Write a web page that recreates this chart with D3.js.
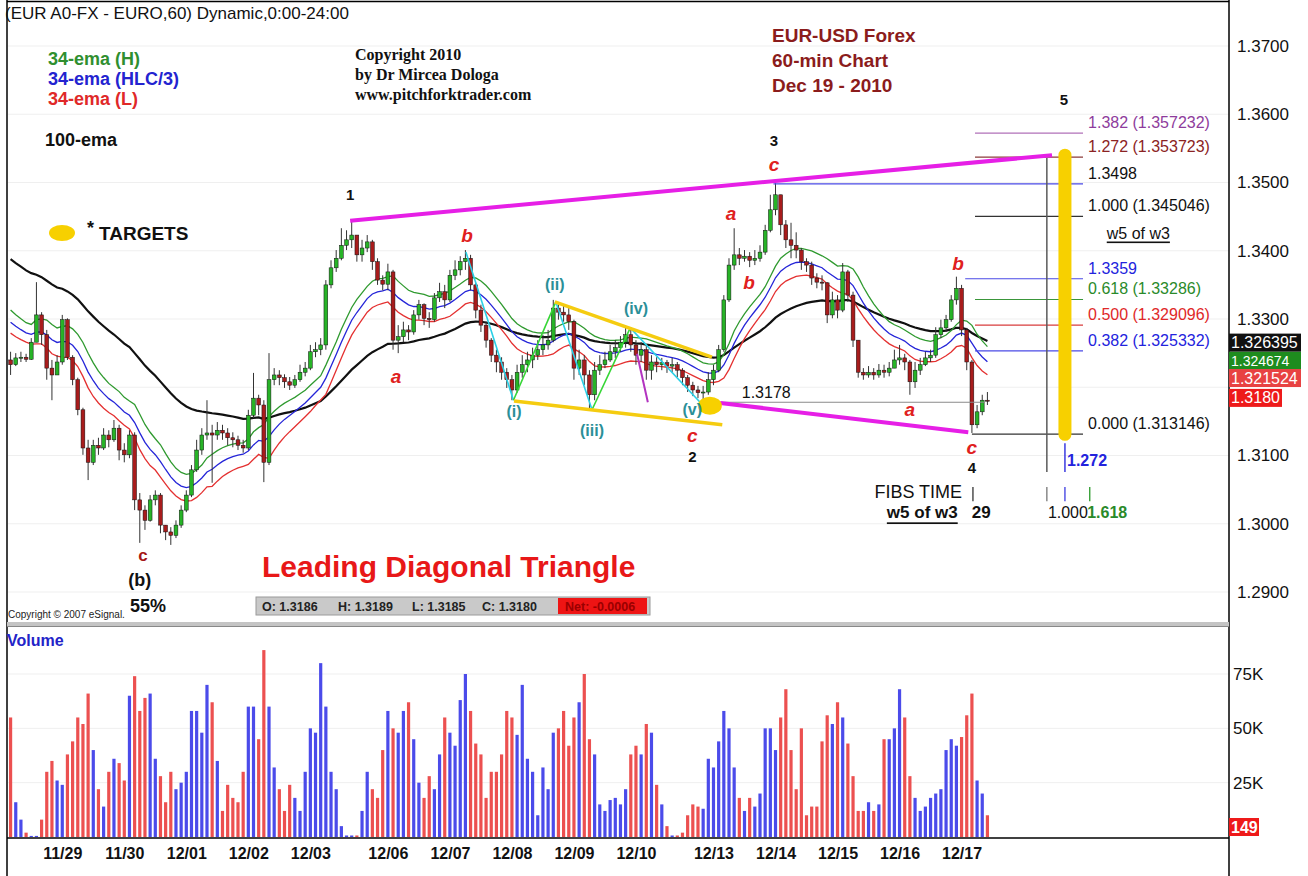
<!DOCTYPE html>
<html>
<head>
<meta charset="utf-8">
<script src="https://cdn.jsdelivr.net/npm/d3@7"></script>
<style>
  body { margin: 0; background: #fff; }
  svg text { font-family: "Liberation Sans", Arial, sans-serif; }
</style>
</head>
<body>
<svg id="chart" width="1308" height="876"></svg>
<script>
// ---------- data (2-hour bars) ----------
var firstOpen = 1.3240;
var closes = [
  1.3233,1.3243,1.3244,1.3241,1.3266,1.3306,1.3277,1.3228,1.3218,1.3237,
  1.3299,1.3244,1.3211,1.3167,1.3111,1.3090,1.3115,1.3111,1.3130,1.3123,
  1.3140,1.3108,1.3101,1.3130,1.3035,1.3020,1.3005,1.3035,1.3042,1.2998,
  1.2988,1.2983,1.2998,1.3020,1.3042,1.3079,1.3108,1.3130,1.3133,1.3130,
  1.3137,1.3133,1.3126,1.3123,1.3115,1.3111,1.3159,1.3184,1.3174,1.3090,
  1.3211,1.3218,1.3214,1.3208,1.3203,1.3211,1.3222,1.3228,1.3252,1.3255,
  1.3262,1.3350,1.3375,1.3389,1.3408,1.3416,1.3423,1.3394,1.3404,1.3413,
  1.3384,1.3357,1.3351,1.3369,1.3269,1.3274,1.3284,1.3281,1.3306,1.3321,
  1.3301,1.3299,1.3331,1.3340,1.3328,1.3364,1.3372,1.3384,1.3389,1.3350,
  1.3313,1.3291,1.3269,1.3247,1.3237,1.3222,1.3211,1.3196,1.3222,1.3233,
  1.3240,1.3247,1.3255,1.3262,1.3269,1.3316,1.3310,1.3306,1.3296,1.3228,
  1.3240,1.3218,1.3189,1.3225,1.3233,1.3240,1.3252,1.3258,1.3266,1.3277,
  1.3262,1.3247,1.3255,1.3225,1.3237,1.3233,1.3236,1.3231,1.3233,1.3225,
  1.3214,1.3203,1.3196,1.3192,1.3193,1.3211,1.3225,1.3255,1.3328,1.3379,
  1.3394,1.3389,1.3392,1.3386,1.3389,1.3398,1.3430,1.3460,1.3482,1.3438,
  1.3416,1.3408,1.3401,1.3384,1.3379,1.3360,1.3354,1.3353,1.3306,1.3328,
  1.3313,1.3369,1.3335,1.3269,1.3222,1.3218,1.3222,1.3218,1.3225,1.3222,
  1.3228,1.3240,1.3243,1.3237,1.3208,1.3225,1.3233,1.3243,1.3247,1.3277,
  1.3287,1.3299,1.3328,1.3345,1.3284,1.3237,1.3145,1.3164,1.3181,1.3180
];
var highs = [
  1.3252,1.3250,1.3252,1.3249,1.3272,1.3354,1.3310,1.3284,1.3240,1.3247,
  1.3306,1.3301,1.3247,1.3214,1.3170,1.3123,1.3123,1.3126,1.3140,1.3137,
  1.3152,1.3145,1.3118,1.3137,1.3134,1.3045,1.3027,1.3042,1.3049,1.3045,
  1.2998,1.2995,1.3005,1.3027,1.3049,1.3086,1.3123,1.3140,1.3181,1.3145,
  1.3149,1.3145,1.3140,1.3134,1.3129,1.3123,1.3167,1.3221,1.3189,1.3181,
  1.3250,1.3228,1.3225,1.3219,1.3215,1.3218,1.3233,1.3237,1.3262,1.3266,
  1.3272,1.3357,1.3386,1.3401,1.3433,1.3430,1.3444,1.3423,1.3416,1.3423,
  1.3416,1.3389,1.3364,1.3381,1.3372,1.3291,1.3296,1.3291,1.3313,1.3328,
  1.3323,1.3310,1.3338,1.3353,1.3350,1.3372,1.3386,1.3392,1.3401,1.3394,
  1.3353,1.3321,1.3296,1.3272,1.3255,1.3244,1.3228,1.3218,1.3233,1.3247,
  1.3252,1.3258,1.3269,1.3277,1.3284,1.3328,1.3325,1.3321,1.3316,1.3299,
  1.3255,1.3247,1.3225,1.3237,1.3247,1.3252,1.3262,1.3269,1.3275,1.3287,
  1.3288,1.3269,1.3266,1.3262,1.3247,1.3244,1.3243,1.3240,1.3243,1.3237,
  1.3228,1.3218,1.3208,1.3202,1.3202,1.3222,1.3233,1.3262,1.3335,1.3389,
  1.3433,1.3404,1.3401,1.3398,1.3401,1.3408,1.3438,1.3482,1.3499,1.3482,
  1.3445,1.3441,1.3427,1.3404,1.3389,1.3384,1.3367,1.3364,1.3354,1.3340,
  1.3335,1.3382,1.3372,1.3340,1.3269,1.3228,1.3231,1.3228,1.3234,1.3233,
  1.3237,1.3255,1.3262,1.3249,1.3240,1.3237,1.3243,1.3252,1.3255,1.3288,
  1.3299,1.3306,1.3335,1.3362,1.3350,1.3287,1.3240,1.3174,1.3189,1.3193
];
var lows = [
  1.3218,1.3231,1.3237,1.3237,1.3240,1.3266,1.3262,1.3211,1.3181,1.3218,
  1.3233,1.3240,1.3203,1.3159,1.3101,1.3064,1.3086,1.3101,1.3108,1.3112,
  1.3120,1.3093,1.3090,1.3096,1.3020,1.2972,1.2991,1.3003,1.3027,1.2986,
  1.2976,1.2969,1.2979,1.2994,1.3017,1.3039,1.3076,1.3101,1.3123,1.3060,
  1.3123,1.3123,1.3115,1.3112,1.3108,1.3104,1.3108,1.3155,1.3159,1.3061,
  1.3086,1.3203,1.3203,1.3199,1.3196,1.3199,1.3208,1.3216,1.3225,1.3244,
  1.3247,1.3255,1.3345,1.3369,1.3386,1.3401,1.3404,1.3384,1.3384,1.3398,
  1.3372,1.3350,1.3342,1.3342,1.3255,1.3250,1.3266,1.3269,1.3277,1.3299,
  1.3291,1.3287,1.3296,1.3325,1.3316,1.3325,1.3357,1.3364,1.3372,1.3342,
  1.3301,1.3281,1.3258,1.3237,1.3222,1.3211,1.3199,1.3181,1.3192,1.3214,
  1.3222,1.3228,1.3240,1.3247,1.3255,1.3266,1.3299,1.3296,1.3284,1.3211,
  1.3218,1.3203,1.3167,1.3181,1.3218,1.3228,1.3237,1.3243,1.3252,1.3258,
  1.3252,1.3233,1.3237,1.3211,1.3211,1.3222,1.3225,1.3221,1.3222,1.3215,
  1.3203,1.3193,1.3187,1.3184,1.3181,1.3189,1.3203,1.3222,1.3252,1.3325,
  1.3372,1.3379,1.3384,1.3376,1.3379,1.3384,1.3394,1.3427,1.3452,1.3423,
  1.3404,1.3389,1.3389,1.3372,1.3369,1.3350,1.3345,1.3342,1.3294,1.3301,
  1.3301,1.3310,1.3325,1.3259,1.3214,1.3211,1.3214,1.3211,1.3214,1.3214,
  1.3216,1.3228,1.3233,1.3225,1.3189,1.3199,1.3218,1.3231,1.3237,1.3243,
  1.3272,1.3281,1.3296,1.3321,1.3275,1.3225,1.3133,1.3140,1.3159,1.3174
];
// volume in thousands
var volumes = [
  55,16,8,2,0.5,0.5,8,30,35,26,
  24,38,44,55,52,66,40,22,14,30,
  36,34,26,65,74,58,64,66,36,28,
  16,30,22,25,30,58,58,48,70,62,
  35,12,24,18,16,30,60,60,45,86,
  60,32,22,12,24,18,12,30,50,48,
  80,60,30,22,5,0.7,0.7,0.7,12,30,
  22,18,40,58,50,48,58,62,45,25,
  18,28,22,38,55,48,42,63,75,58,
  43,38,18,30,30,38,58,55,47,70,
  36,30,10,32,22,48,50,58,42,55,
  62,75,45,38,15,12,17,18,15,22,
  38,42,38,52,48,24,15,5,0.7,0.7,
  2,10,15,14,13,36,32,44,58,50,
  32,18,12,18,14,20,50,50,40,55,
  68,40,22,50,10,14,14,44,56,52,
  62,55,43,28,12,12,16,12,15,45,
  45,50,68,55,28,18,12,14,18,20,
  22,40,45,42,46,56,66,26,20,10
];

var dayLabels   = ["11/29","11/30","12/01","12/02","12/03","12/06","12/07","12/08","12/09","12/10","12/13","12/14","12/15","12/16","12/17"];
var dayStartBar = [10, 22, 34, 46, 58, 73, 85, 97, 109, 121, 136, 148, 160, 172, 184];
var priceTicks  = [1.29, 1.30, 1.31, 1.33, 1.34, 1.35, 1.36, 1.37];
var volumeTicks = [25, 50, 75];

// ema lengths in 2-hour bars (34 and 100 hourly bars) and the values where the lines enter the chart
var shortPeriod = 17, longPeriod = 50;
var emaSeedHigh = 1.3321, emaSeedHLC = 1.3303, emaSeedLow = 1.3287, emaSeedLong = 1.3394;

// study values shown in the boxes of the price scale
var lastValueText  = ["1.324674", "1.326395", "1.321524", "1.3180"];
var lastValuePrice = [1.324674, 1.326395, 1.321524, 1.3180];

// fibonacci price levels
var fibLabels   = ["1.382 (1.357232)","1.272 (1.353723)","1.3498","1.000 (1.345046)","1.3359","0.618 (1.33286)","0.500 (1.329096)","0.382 (1.325332)","0.000 (1.313146)"];
var fibPrices   = [1.357232, 1.353723, 1.3498, 1.345046, 1.3359, 1.33286, 1.329096, 1.325332, 1.313146];
var fibStartBar = [186.6, 186.6, 147.6, 186.6, 184.7, 186.6, 186.6, 186.6, 186.0];
var fibEndBar   = 207.5;

// wave (i)..(v) zigzag, starting at the b top
var zigBars   = [88.1, 97.3, 105.5, 112.5, 119.9, 133.4];
var zigPrices = [1.3398, 1.3181, 1.3325, 1.3167, 1.3287, 1.3178];

// trend lines [bar, price] pairs
var upperWedge  = [[65.7, 1.3444], [201.5, 1.3540]];
var lowerWedge  = [[137.3, 1.3177], [185.3, 1.3134]];
var yellowUpper = [[105.3, 1.3325], [135.7, 1.3244]];
var yellowLower = [[97.4, 1.3180], [137.7, 1.3145]];
var smallDrop   = [[121.2, 1.3249], [123.3, 1.3178]];
var level13178  = [[137.3, 1.3178], [188.5, 1.3178]];
var targetSpot  = [135.3, 1.3173];
var targetBar   = [[204.0, 1.3540], [204.0, 1.3131]];
var timeLine    = [[200.5, 1.3536], [200.5, 1.3076]];
var timeBlue    = [[204.0, 1.3118], [204.0, 1.3076]];
var timeTickBars = [186.2, 200.5, 204.0, 208.8];

// wave labels
var noteText  = ["1","b","a","c","(b)","55%","(ii)","(iv)","(i)","(iii)","(v)","c","2","1.3178","a","b","c","3","b","a","c","4","5",
                 "w5 of w3","FIBS TIME","w5 of w3","29","1.000","1.618","1.272"];
var noteBar   = [65.7,88.3,74.6,25.6,25.0,26.6,105.3,121.0,97.4,112.5,131.9,131.9,131.9,146.2,139.4,142.9,147.7,147.7,183.3,174.0,186.0,186.0,203.8,
                 218.2,184.1,176.4,187.8,200.7,208.3,204.4];
var notePrice = [1.3483,1.3422,1.3216,1.2953,1.2918,1.2879,1.3350,1.3315,1.3165,1.3137,1.3167,1.3129,1.3099,1.3192,1.3454,1.3354,1.3526,1.3561,1.3382,1.3167,1.3111,1.3082,1.3622,
                 1.3426,1.3047,1.3016,1.3016,1.3016,1.3016,1.3093];
var noteKind  = ["num","abc","abc","abcUp","big","big","sub","sub","sub","sub","sub","abc","num","plain","abc","abc","abc","num","abc","abc","abc","num","num",
                 "under","end","underB","bold","start","green","blue"];

// ---------- drawing ----------
var svg = d3.select("#chart");

var x = d3.scaleLinear().domain([-0.5, closes.length - 0.5]).range([8, 990]);
var y = d3.scaleLinear().domain([1.29, 1.37]).range([592, 46]);
var yVol = d3.scaleLinear().domain([0, 75]).range([837, 674]);

var bars = closes.map(function (c, i) {
  return { i: i, o: i ? closes[i - 1] : firstOpen, h: highs[i], l: lows[i], c: c, v: volumes[i] };
});

// gridlines
svg.append("g").selectAll("line").data(priceTicks.concat([1.32])).enter().append("line")
  .attr("x1", 8).attr("x2", 1229)
  .attr("y1", function (d) { return y(d); }).attr("y2", function (d) { return y(d); })
  .attr("stroke", "#efefef");
svg.append("g").selectAll("line").data(volumeTicks).enter().append("line")
  .attr("x1", 8).attr("x2", 1229)
  .attr("y1", function (d) { return yVol(d); }).attr("y2", function (d) { return yVol(d); })
  .attr("stroke", "#efefef");

// emas
function ema(values, period, seed) {
  var k = 2 / (period + 1), prev = seed;
  return values.map(function (v) { prev = prev + k * (v - prev); return prev; });
}
var emaHigh = ema(highs, shortPeriod, emaSeedHigh);
var emaLow  = ema(lows, shortPeriod, emaSeedLow);
var emaHLC  = ema(bars.map(function (b) { return (b.h + b.l + b.c) / 3; }), shortPeriod, emaSeedHLC);
var emaLong = ema(closes, longPeriod, emaSeedLong);

var line = d3.line().x(function (d, i) { return x(i); }).y(function (d) { return y(d); });
[[emaLong, "#111", 2.2], [emaHigh, "#2f9a2f", 1.3], [emaHLC, "#2525d8", 1.3], [emaLow, "#e43030", 1.3]]
  .forEach(function (s) {
    svg.append("path").attr("d", line(s[0])).attr("fill", "none")
      .attr("stroke", s[1]).attr("stroke-width", s[2]);
  });

// candles
var candles = svg.append("g");
candles.selectAll("line").data(bars).enter().append("line")
  .attr("x1", function (d) { return x(d.i); }).attr("x2", function (d) { return x(d.i); })
  .attr("y1", function (d) { return y(d.h); }).attr("y2", function (d) { return y(d.l); })
  .attr("stroke", "#333").attr("stroke-width", 1);
candles.selectAll("rect").data(bars).enter().append("rect")
  .attr("x", function (d) { return x(d.i) - 1.9; })
  .attr("width", 3.8)
  .attr("y", function (d) { return y(Math.max(d.o, d.c)); })
  .attr("height", function (d) { return Math.max(1, Math.abs(y(d.o) - y(d.c))); })
  .attr("fill", function (d) { return d.c >= d.o ? "#27b327" : "#a81c1c"; })
  .attr("stroke", "#111").attr("stroke-width", 0.5);

// volume
svg.append("g").selectAll("rect").data(bars).enter().append("rect")
  .attr("x", function (d) { return x(d.i) - 1.6; })
  .attr("width", 3.2)
  .attr("y", function (d) { return yVol(d.v); })
  .attr("height", function (d) { return yVol(0) - yVol(d.v); })
  .attr("fill", function (d) { return d.c >= d.o ? "#4b4bea" : "#ec5050"; });

// helper for [bar, price] segments
function seg(pts, color, width, cap) {
  return svg.append("line")
    .attr("x1", x(pts[0][0])).attr("y1", y(pts[0][1]))
    .attr("x2", x(pts[1][0])).attr("y2", y(pts[1][1]))
    .attr("stroke", color).attr("stroke-width", width)
    .attr("stroke-linecap", cap || "butt");
}

// fib levels
var fibLabelColor = ["#8e3c9c","#8b2323","#111","#111","#2323dd","#2a8a2a","#e02828","#2323dd","#111"];
var fibLineColor  = ["#b070b8","#8b3a3a","#4a4ae6","#333","#4a4ae6","#3a963a","#d83c3c","#4a4ae6","#333"];
fibPrices.forEach(function (p, k) {
  seg([[fibStartBar[k], p], [fibEndBar, p]], fibLineColor[k], 1.2);
  svg.append("text").attr("x", x(fibEndBar) + 5).attr("y", y(p) - 5)
    .attr("font-size", 16).attr("fill", fibLabelColor[k]).text(fibLabels[k]);
});

seg(level13178, "#8a8a8a", 1.2);
seg(timeLine, "#5a5a5a", 1.5);
seg(timeBlue, "#3a3ae0", 1.5);
timeTickBars.forEach(function (b, k) {
  seg([[b, 1.3054], [b, 1.3033]], ["#333", "#777", "#3a3ae0", "#2a9a2a"][k], 1.3);
});
seg(targetBar, "#f7d000", 13, "round");

// zigzag of the diagonal
for (var k = 0; k < zigBars.length - 1; k++) {
  seg([[zigBars[k], zigPrices[k]], [zigBars[k + 1], zigPrices[k + 1]]], k % 2 ? "#36d636" : "#2ad0e6", 1.6);
}
seg(smallDrop, "#b233c0", 2);
seg(yellowUpper, "#f5cc10", 3.5);
seg(yellowLower, "#f5cc10", 3.5);
seg(upperWedge, "#e61fe6", 4);
seg(lowerWedge, "#e61fe6", 4);
svg.append("ellipse").attr("cx", x(targetSpot[0])).attr("cy", y(targetSpot[1]))
  .attr("rx", 12).attr("ry", 9).attr("fill", "#f7d000");

// wave notes
var noteStyle = {
  num:    { size: 15, weight: "bold", color: "#111" },
  abc:    { size: 19, weight: "bold", color: "#e02020", italic: true },
  abcUp:  { size: 17, weight: "bold", color: "#a51616" },
  big:    { size: 18, weight: "bold", color: "#111" },
  sub:    { size: 16, weight: "bold", color: "#2b8f98" },
  plain:  { size: 16, weight: "normal", color: "#111" },
  bold:   { size: 17, weight: "bold", color: "#111" },
  under:  { size: 16, weight: "normal", color: "#111", underline: true },
  underB: { size: 17, weight: "bold", color: "#111", underline: true },
  end:    { size: 18, weight: "normal", color: "#111", anchor: "end" },
  start:  { size: 16, weight: "normal", color: "#111", anchor: "start" },
  green:  { size: 16, weight: "bold", color: "#2a8a2a", anchor: "start" },
  blue:   { size: 16, weight: "bold", color: "#2323dd", anchor: "start" }
};
noteText.forEach(function (t, k) {
  var s = noteStyle[noteKind[k]];
  svg.append("text")
    .attr("x", x(noteBar[k])).attr("y", y(notePrice[k]))
    .attr("dominant-baseline", "central")
    .attr("text-anchor", s.anchor || "middle")
    .attr("font-size", s.size).attr("font-weight", s.weight)
    .attr("font-style", s.italic ? "italic" : "normal")
    .style("text-decoration", s.underline ? "underline" : "none")
    .attr("fill", s.color).text(t);
});

// frame
svg.append("line").attr("x1", 7).attr("x2", 7).attr("y1", 0).attr("y2", 876).attr("stroke", "#000").attr("stroke-width", 1.5);
svg.append("line").attr("x1", 7).attr("x2", 1229).attr("y1", 1.5).attr("y2", 1.5).attr("stroke", "#000").attr("stroke-width", 1.5);
svg.append("line").attr("x1", 1229).attr("x2", 1229).attr("y1", 0).attr("y2", 876).attr("stroke", "#000").attr("stroke-width", 1.5);
svg.append("rect").attr("x", 7).attr("y", 622).attr("width", 1222).attr("height", 4).attr("fill", "#c4c4c4");
svg.append("line").attr("x1", 7).attr("x2", 1229).attr("y1", 626.5).attr("y2", 626.5).attr("stroke", "#888");
svg.append("line").attr("x1", 7).attr("x2", 1229).attr("y1", 838).attr("y2", 838).attr("stroke", "#000").attr("stroke-width", 1.5);

// price scale
var priceAxis = svg.append("g").attr("transform", "translate(1229,0)")
  .call(d3.axisRight(y).tickValues(priceTicks).tickFormat(d3.format(".4f")).tickSize(0).tickPadding(8));
priceAxis.select(".domain").remove();
priceAxis.selectAll("text").attr("font-size", 17).attr("fill", "#111").style("font-family", "'Liberation Sans', Arial, sans-serif");

// volume scale
var volAxis = svg.append("g").attr("transform", "translate(1229,0)")
  .call(d3.axisRight(yVol).tickValues(volumeTicks).tickFormat(function (d) { return d + "K"; }).tickSize(0).tickPadding(4));
volAxis.select(".domain").remove();
volAxis.selectAll("text").attr("font-size", 17).attr("fill", "#111").style("font-family", "'Liberation Sans', Arial, sans-serif");

// date axis
var dateAxis = svg.append("g").attr("transform", "translate(0,840)")
  .call(d3.axisBottom(x).tickValues(dayStartBar).tickFormat(function (d, k) { return dayLabels[k]; }).tickSize(0).tickPadding(8));
dateAxis.select(".domain").remove();
dateAxis.selectAll("text").attr("font-size", 16).attr("font-weight", "bold").attr("fill", "#111")
  .style("font-family", "'Liberation Sans', Arial, sans-serif");

// value boxes on the price scale (green sits half under the black one, as in eSignal)
var boxFill  = ["#1e8c1e", "#111", "#e84242", "#ee1a1a"];
var boxShift = [5.2, -1, 1.2, -3];
var boxFont  = [14, 16, 16, 16];
lastValueText.forEach(function (t, k) {
  var w = t.length > 6 ? 72 : 53, cy = y(lastValuePrice[k]) + boxShift[k];
  svg.append("rect").attr("x", 1229).attr("y", cy - 9).attr("width", w).attr("height", 18).attr("fill", boxFill[k]);
  svg.append("text").attr("x", 1231).attr("y", cy).attr("dominant-baseline", "central")
    .attr("font-size", boxFont[k]).attr("fill", "#fff").text(t);
});
svg.append("rect").attr("x", 1229).attr("y", 818).attr("width", 30).attr("height", 18).attr("fill", "#ee1a1a");
svg.append("text").attr("x", 1231).attr("y", 827).attr("dominant-baseline", "central")
  .attr("font-size", 16).attr("font-weight", "bold").attr("fill", "#fff").text("149");

// headings and legend
svg.append("text").attr("x", 5).attr("y", 19).attr("font-size", 17).attr("fill", "#111")
  .text("(EUR A0-FX - EURO,60) Dynamic,0:00-24:00");
[["34-ema (H)", "#2f8f2f"], ["34-ema (HLC/3)", "#2323d0"], ["34-ema (L)", "#e02828"]].forEach(function (l, k) {
  svg.append("text").attr("x", 48).attr("y", 65 + k * 20).attr("font-size", 18).attr("font-weight", "bold")
    .attr("fill", l[1]).text(l[0]);
});
svg.append("text").attr("x", 45).attr("y", 146).attr("font-size", 18).attr("font-weight", "bold").attr("fill", "#111").text("100-ema");
svg.append("ellipse").attr("cx", 62).attr("cy", 233).attr("rx", 13).attr("ry", 8).attr("fill", "#f7d000");
svg.append("text").attr("x", 87).attr("y", 234).attr("font-size", 18).attr("font-weight", "bold").attr("fill", "#111").text("*");
svg.append("text").attr("x", 99).attr("y", 240).attr("font-size", 19).attr("font-weight", "bold").attr("fill", "#111").text("TARGETS");

["Copyright 2010", "by Dr Mircea Dologa", "www.pitchforktrader.com"].forEach(function (t, k) {
  svg.append("text").attr("x", 355).attr("y", 60 + k * 20).attr("font-size", 16).attr("font-weight", "bold")
    .style("font-family", "'Liberation Serif', 'Times New Roman', serif").attr("fill", "#111").text(t);
});
["EUR-USD Forex", "60-min Chart", "Dec 19 - 2010"].forEach(function (t, k) {
  svg.append("text").attr("x", 772).attr("y", 42 + k * 25).attr("font-size", 19).attr("font-weight", "bold")
    .attr("fill", "#8b1c1c").text(t);
});
svg.append("text").attr("x", 262).attr("y", 577).attr("font-size", 30).attr("font-weight", "bold")
  .attr("fill", "#e81818").text("Leading Diagonal Triangle");
svg.append("text").attr("x", 8).attr("y", 618).attr("font-size", 10).attr("fill", "#222").text("Copyright \u00a9 2007 eSignal.");

// ohlc strip
svg.append("rect").attr("x", 256).attr("y", 597).attr("width", 394).attr("height", 18).attr("fill", "#c9c9c9").attr("stroke", "#9a9a9a");
[["O: 1.3186", 262], ["H: 1.3189", 338], ["L: 1.3185", 412], ["C: 1.3180", 482]].forEach(function (t) {
  svg.append("text").attr("x", t[1]).attr("y", 611).attr("font-size", 12.5).attr("font-weight", "bold").attr("fill", "#222").text(t[0]);
});
svg.append("rect").attr("x", 558).attr("y", 598).attr("width", 89).attr("height", 16).attr("fill", "#ee1414");
svg.append("text").attr("x", 565).attr("y", 611).attr("font-size", 12.5).attr("font-weight", "bold").attr("fill", "#9a0000").text("Net: -0.0006");

svg.append("text").attr("x", 7).attr("y", 646).attr("font-size", 16).attr("font-weight", "bold").attr("fill", "#2323c8").text("Volume");
</script>
</body>
</html>
